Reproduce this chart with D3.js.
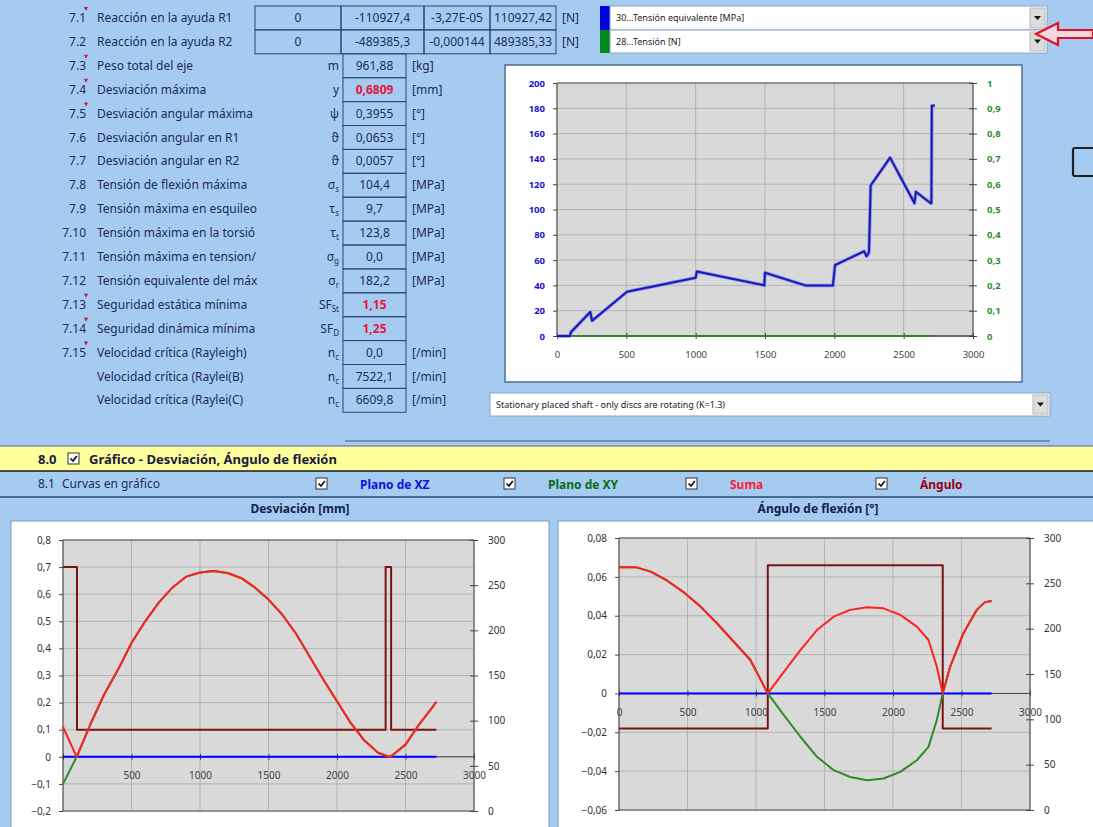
<!DOCTYPE html>
<html>
<head>
<meta charset="utf-8">
<script src="https://cdn.jsdelivr.net/npm/d3@7"></script>
<style>
  body { margin: 0; background: #a6cbf1; overflow: hidden; }
  text { font-family: "Noto Sans", sans-serif; }
</style>
</head>
<body>
<script>
// ---- table data (section 7) ----
var reacNums = ["7.1", "7.2"];
var reacLabels = ["Reacción en la ayuda R1", "Reacción en la ayuda R2"];
var reacCells = [
  ["0", "-110927,4", "-3,27E-05", "110927,42"],
  ["0", "-489385,3", "-0,000144", "489385,33"]
];
var resNums = ["7.3", "7.4", "7.5", "7.6", "7.7", "7.8", "7.9", "7.10", "7.11", "7.12", "7.13", "7.14", "7.15", "", ""];
var resLabels = ["Peso total del eje", "Desviación máxima", "Desviación angular máxima",
  "Desviación angular en R1", "Desviación angular en R2", "Tensión de flexión máxima",
  "Tensión máxima en esquileo", "Tensión máxima en la torsió", "Tensión máxima en tension/",
  "Tensión equivalente del máx", "Seguridad estática mínima", "Seguridad dinámica mínima",
  "Velocidad crítica (Rayleigh)", "Velocidad crítica (Raylei(B)", "Velocidad crítica (Raylei(C)"];
var resSym = [["m", ""], ["y", ""], ["ψ", ""], ["ϑ", ""], ["ϑ", ""], ["σ", "s"], ["τ", "s"], ["τ", "t"],
  ["σ", "g"], ["σ", "r"], ["SF", "St"], ["SF", "D"], ["n", "c"], ["n", "c"], ["n", "c"]];
var resValues = ["961,88", "0,6809", "0,3955", "0,0653", "0,0057", "104,4", "9,7", "123,8", "0,0",
  "182,2", "1,15", "1,25", "0,0", "7522,1", "6609,8"];
var resUnits = ["[kg]", "[mm]", "[°]", "[°]", "[°]", "[MPa]", "[MPa]", "[MPa]", "[MPa]", "[MPa]", "", "",
  "[/min]", "[/min]", "[/min]"];

// ---- top chart: stress along the shaft ----
var xTicks = [0, 500, 1000, 1500, 2000, 2500, 3000];
var stressX = [0, 95, 100, 240, 253, 505, 1000, 1008, 1495, 1500, 1790, 1990, 2005, 2215, 2232, 2250, 2262, 2402, 2578, 2588, 2695, 2700, 2703, 2725];
var stressY = [0, 0, 3, 19, 12, 35, 46, 51, 40, 50, 40, 40, 56, 67, 63, 66, 119, 141, 105, 114, 105, 105, 182, 182];
var tensionY = [0, 0, 0, 0, 0, 0, 0, 0, 0, 0, 0, 0, 0, 0, 0, 0, 0, 0, 0, 0, 0, 0, 0, 0];
var stressTicks = [0, 20, 40, 60, 80, 100, 120, 140, 160, 180, 200];
var tensionTicks = [0, 0.1, 0.2, 0.3, 0.4, 0.5, 0.6, 0.7, 0.8, 0.9, 1];

// ---- bottom left: deflection [mm] ----
var defX = [0, 100, 200, 300, 400, 500, 600, 700, 800, 900, 1000, 1100, 1200, 1300, 1400, 1500, 1600, 1700, 1800, 1900, 2000, 2100, 2200, 2300, 2380, 2400, 2500, 2600, 2700, 2725];
var defXZ = [0, 0, 0, 0, 0, 0, 0, 0, 0, 0, 0, 0, 0, 0, 0, 0, 0, 0, 0, 0, 0, 0, 0, 0, 0, 0, 0, 0, 0, 0];
var defXY = [-0.1, 0, 0.12, 0.23, 0.32, 0.42, 0.5, 0.57, 0.625, 0.665, 0.68, 0.686, 0.678, 0.66, 0.625, 0.58, 0.525, 0.455, 0.37, 0.285, 0.205, 0.125, 0.06, 0.015, 0, 0.004, 0.045, 0.12, 0.185, 0.203];
var defSum = [0.11, 0, 0.12, 0.23, 0.32, 0.42, 0.5, 0.57, 0.625, 0.665, 0.68, 0.686, 0.678, 0.66, 0.625, 0.58, 0.525, 0.455, 0.37, 0.285, 0.205, 0.125, 0.06, 0.015, 0, 0.004, 0.045, 0.12, 0.185, 0.203];
var defAngX = [0, 102, 102, 2355, 2355, 2395, 2395, 2725];
var defAngY = [270, 270, 90, 90, 270, 270, 90, 90];
var defTicks = [-0.2, -0.1, 0, 0.1, 0.2, 0.3, 0.4, 0.5, 0.6, 0.7, 0.8];
var degTicks = [0, 50, 100, 150, 200, 250, 300];

// ---- bottom right: bending angle [°] ----
var angX = [0, 121, 231, 352, 474, 595, 717, 838, 959, 1086, 1202, 1324, 1445, 1567, 1688, 1810, 1931, 2053, 2174, 2259, 2320, 2363, 2417, 2514, 2611, 2671, 2720];
var angXZ = [0, 0, 0, 0, 0, 0, 0, 0, 0, 0, 0, 0, 0, 0, 0, 0, 0, 0, 0, 0, 0, 0, 0, 0, 0, 0, 0];
var angXY = [0.065, 0.065, 0.0627, 0.058, 0.052, 0.0447, 0.036, 0.0266, 0.0172, 0, -0.011, -0.0223, -0.0326, -0.0395, -0.043, -0.0447, -0.0438, -0.0404, -0.0344, -0.0275, -0.0137, 0, 0.0137, 0.031, 0.043, 0.047, 0.0476];
var angSum = [0.065, 0.065, 0.0627, 0.058, 0.052, 0.0447, 0.036, 0.0266, 0.0172, 0, 0.011, 0.0223, 0.0326, 0.0395, 0.043, 0.0443, 0.0438, 0.0404, 0.0344, 0.0275, 0.0137, 0, 0.0137, 0.031, 0.043, 0.047, 0.0476];
var angStepX = [0, 1086, 1086, 2363, 2363, 2720];
var angStepY = [90, 90, 270, 270, 90, 90];
var angTicks = [-0.06, -0.04, -0.02, 0, 0.02, 0.04, 0.06, 0.08];

var curveNames = ["Plano de XZ", "Plano de XY", "Suma", "Ángulo"];

var ink = "#1b2c5a";
var loc = d3.formatLocale({decimal: ",", thousands: ".", grouping: [3], currency: ["", ""]});

var svg = d3.select("body").append("svg").attr("width", 1093).attr("height", 827);
svg.append("rect").attr("width", 1093).attr("height", 827).attr("fill", "#a6cbf1");

function rowY(i) { return 18 + i * 23.9; }

function checkbox(x, y) {
  svg.append("rect").attr("x", x).attr("y", y).attr("width", 11).attr("height", 11)
    .attr("fill", "#fff").attr("stroke", "#333");
  svg.append("path").attr("d", "M" + (x + 2.5) + "," + (y + 5.5) + "l2.5,2.5l3.8,-5")
    .attr("fill", "none").attr("stroke", "#111").attr("stroke-width", 1.7);
}

// ---- section 7 table ----
var allNums = reacNums.concat(resNums);
var allLabels = reacLabels.concat(resLabels);
svg.selectAll(".num").data(allNums).join("text")
  .attr("x", 86).attr("y", function(d, i) { return rowY(i) + 4; })
  .attr("text-anchor", "end").attr("font-size", 12).attr("fill", ink).text(function(d) { return d; });
svg.selectAll(".lab").data(allLabels).join("text")
  .attr("x", 97).attr("y", function(d, i) { return rowY(i) + 4; })
  .attr("font-size", 12).attr("fill", ink).text(function(d) { return d; });

// comment markers
[0, 2, 3, 4, 12, 13, 14].forEach(function(i) {
  var y = rowY(i) - 12;
  svg.append("path").attr("d", "M84," + (y + 1) + "l4,0l-2,4z").attr("fill", "#d0102a");
});

// reactions grid
var cellEdges = [255, 341, 424, 490, 556];
reacCells.forEach(function(row, r) {
  row.forEach(function(v, c) {
    svg.append("rect").attr("x", cellEdges[c]).attr("y", 6 + r * 23.9)
      .attr("width", cellEdges[c + 1] - cellEdges[c]).attr("height", 23.9)
      .attr("fill", "none").attr("stroke", "#2b4670");
    svg.append("text").attr("x", (cellEdges[c] + cellEdges[c + 1]) / 2).attr("y", rowY(r) + 4)
      .attr("text-anchor", "middle").attr("font-size", 12).attr("fill", ink).text(v);
  });
  svg.append("text").attr("x", 562).attr("y", rowY(r) + 4).attr("font-size", 12).attr("fill", ink).text("[N]");
});

// results column
var hot = {1: true, 10: true, 11: true};
resValues.forEach(function(v, k) {
  var i = k + 2;
  svg.append("rect").attr("x", 343).attr("y", 6 + i * 23.9).attr("width", 63).attr("height", 23.9)
    .attr("fill", "none").attr("stroke", "#2b4670");
  svg.append("text").attr("x", 374.5).attr("y", rowY(i) + 4).attr("text-anchor", "middle")
    .attr("font-size", 12).attr("font-weight", hot[k] ? "bold" : "normal")
    .attr("fill", hot[k] ? "#e8143c" : ink).text(v);
  var s = svg.append("text").attr("x", 339).attr("y", rowY(i) + 4).attr("text-anchor", "end")
    .attr("font-size", 12).attr("fill", ink);
  s.append("tspan").text(resSym[k][0]);
  if (resSym[k][1]) s.append("tspan").attr("font-size", 8).attr("dy", 3).text(resSym[k][1]);
  svg.append("text").attr("x", 412).attr("y", rowY(i) + 4).attr("font-size", 12).attr("fill", ink).text(resUnits[k]);
});

// ---- dropdowns ----
function dropdown(x0, x1, y0, h, label, swatch) {
  if (swatch) svg.append("rect").attr("x", x0 - 10).attr("y", y0).attr("width", 10).attr("height", h).attr("fill", swatch);
  svg.append("rect").attr("x", x0).attr("y", y0).attr("width", x1 - x0).attr("height", h)
    .attr("fill", "#fff").attr("stroke", "#8aa4c2");
  svg.append("rect").attr("x", x1 - 17).attr("y", y0 + 2).attr("width", 15).attr("height", h - 4)
    .attr("fill", "#dcdcdc").attr("stroke", "#b8b8b8");
  svg.append("path").attr("d", "M" + (x1 - 13) + "," + (y0 + h / 2 - 2) + "l7,0l-3.5,4z").attr("fill", "#111");
  svg.append("text").attr("x", x0 + 6).attr("y", y0 + h / 2 + 3).attr("font-size", 9).attr("fill", "#222").text(label);
}
dropdown(610, 1047, 6, 24, "30...Tensión equivalente  [MPa]", "#0000e0");
dropdown(610, 1047, 30, 23, "28...Tensión  [N]", "#008a1e");
dropdown(490, 1050, 393, 23, "Stationary placed shaft - only discs are rotating  (K=1.3)", null);

// red arrow pointing at the second dropdown
svg.append("path").attr("d", "M1036,34 L1058,23 L1058,30 L1093,30 L1093,38 L1058,38 L1058,45 Z")
  .attr("fill", "#f4d8dc").attr("stroke", "#e0102a").attr("stroke-width", 2.2);
svg.append("rect").attr("x", 1073).attr("y", 148).attr("width", 26).attr("height", 28).attr("rx", 2)
  .attr("fill", "none").attr("stroke", "#222").attr("stroke-width", 2.2);

svg.append("line").attr("x1", 345).attr("x2", 1050).attr("y1", 441).attr("y2", 441)
  .attr("stroke", "#3b5578").attr("stroke-width", 1.2);

// ---- section 8 header ----
svg.append("rect").attr("x", 0).attr("y", 446).attr("width", 1093).attr("height", 25).attr("fill", "#ffff9c");
svg.append("line").attr("x1", 0).attr("x2", 1093).attr("y1", 446).attr("y2", 446).attr("stroke", "#4a6282");
svg.append("line").attr("x1", 0).attr("x2", 1093).attr("y1", 471).attr("y2", 471).attr("stroke", "#1a1a1a").attr("stroke-width", 1.5);
svg.append("text").attr("x", 38).attr("y", 464).attr("font-size", 13).attr("font-weight", "bold").attr("fill", "#1a1a40").text("8.0");
checkbox(68, 453);
svg.append("text").attr("x", 89).attr("y", 464).attr("font-size", 13).attr("font-weight", "bold").attr("fill", "#1a1a40")
  .text("Gráfico - Desviación, Ángulo de flexión");

svg.append("text").attr("x", 38).attr("y", 488).attr("font-size", 12).attr("fill", ink).text("8.1");
svg.append("text").attr("x", 62).attr("y", 488).attr("font-size", 12).attr("fill", ink).text("Curvas en gráfico");
var curveColors = ["#1010e0", "#0a6a1a", "#ff1a3c", "#9c0010"];
var boxX = [316, 504, 686, 876];
curveNames.forEach(function(n, i) {
  checkbox(boxX[i], 478);
  svg.append("text").attr("x", boxX[i] + 44).attr("y", 489).attr("font-size", 12).attr("font-weight", "bold")
    .attr("fill", curveColors[i]).text(n);
});
svg.append("line").attr("x1", 0).attr("x2", 1093).attr("y1", 497).attr("y2", 497).attr("stroke", "#2b4670").attr("stroke-width", 1.3);

svg.append("text").attr("x", 300).attr("y", 513).attr("text-anchor", "middle").attr("font-size", 12)
  .attr("font-weight", "bold").attr("fill", "#12224a").text("Desviación [mm]");
svg.append("text").attr("x", 818).attr("y", 513).attr("text-anchor", "middle").attr("font-size", 12)
  .attr("font-weight", "bold").attr("fill", "#12224a").text("Ángulo de flexión [°]");

// ---- chart panels ----
svg.append("rect").attr("x", 505).attr("y", 65).attr("width", 517).attr("height", 317)
  .attr("fill", "#fff").attr("stroke", "#4d6d94").attr("stroke-width", 1.5);
svg.append("rect").attr("x", 11).attr("y", 521).attr("width", 538).attr("height", 310)
  .attr("fill", "#fff").attr("stroke", "#7d99bb");
svg.append("rect").attr("x", 558).attr("y", 521).attr("width", 540).attr("height", 310)
  .attr("fill", "#fff").attr("stroke", "#7d99bb");

function styleAxis(sel, color, weight, size) {
  sel.select(".domain").remove();
  sel.selectAll("line").attr("stroke", "#444");
  sel.selectAll("text").attr("font-size", size).attr("fill", color).attr("font-weight", weight || "normal")
    .style("font-family", "'Noto Sans', sans-serif");
}

function plot(p) {
  var x = d3.scaleLinear().domain([0, 3000]).range([p.x0, p.x1]);
  var y = d3.scaleLinear().domain(p.yDom).range([p.y1, p.y0]);
  var y2 = d3.scaleLinear().domain(p.y2Dom).range([p.y1, p.y0]);
  var g = svg.append("g");
  g.append("rect").attr("x", p.x0).attr("y", p.y0).attr("width", p.x1 - p.x0).attr("height", p.y1 - p.y0)
    .attr("fill", "#d9d9d9");
  g.selectAll(".hg").data(p.yTicks).join("line")
    .attr("x1", p.x0).attr("x2", p.x1).attr("y1", function(d) { return y(d); }).attr("y2", function(d) { return y(d); })
    .attr("stroke", "#b4b4b4");
  g.selectAll(".vg").data(xTicks).join("line")
    .attr("y1", p.y0).attr("y2", p.y1).attr("x1", function(d) { return x(d); }).attr("x2", function(d) { return x(d); })
    .attr("stroke", "#b4b4b4");
  // frame lines
  g.append("line").attr("x1", p.x0).attr("x2", p.x1).attr("y1", p.y0).attr("y2", p.y0).attr("stroke", "#555");
  g.append("line").attr("x1", p.x0).attr("x2", p.x1).attr("y1", p.y1).attr("y2", p.y1).attr("stroke", "#555");
  g.append("line").attr("x1", p.x0).attr("x2", p.x0).attr("y1", p.y0).attr("y2", p.y1).attr("stroke", "#444");
  g.append("line").attr("x1", p.x1).attr("x2", p.x1).attr("y1", p.y0).attr("y2", p.y1).attr("stroke", "#444");

  var la = g.append("g").attr("transform", "translate(" + p.x0 + ",0)")
    .call(d3.axisLeft(y).tickValues(p.yTicks).tickSize(4).tickPadding(8).tickFormat(p.yFmt));
  styleAxis(la, p.yColor, p.yWeight, p.fs);
  var ra = g.append("g").attr("transform", "translate(" + p.x1 + ",0)")
    .call(d3.axisRight(y2).tickValues(p.y2Ticks).tickSize(4).tickPadding(10).tickFormat(p.y2Fmt));
  styleAxis(ra, p.y2Color, p.y2Weight, p.fs);
  ra.selectAll(".tick line").attr("x1", -4);

  var axY = y(p.xAt);
  g.append("line").attr("x1", p.x0).attr("x2", p.x1).attr("y1", axY).attr("y2", axY).attr("stroke", "#444");
  var xa = g.append("g").attr("transform", "translate(0," + axY + ")")
    .call(d3.axisBottom(x).tickValues(xTicks).tickSize(3).tickPadding(12).tickFormat(p.xFmt));
  styleAxis(xa, "#444", "normal", p.fs);
  xa.selectAll(".tick line").attr("y1", -3);
  return {x: x, y: y, y2: y2, g: g};
}

function drawLine(c, X, Y, scaleY, color, w) {
  var line = d3.line().x(function(d) { return c.x(d[0]); }).y(function(d) { return scaleY(d[1]); });
  c.g.append("path").datum(d3.zip(X, Y)).attr("d", line)
    .attr("fill", "none").attr("stroke", color).attr("stroke-width", w).attr("stroke-linejoin", "round");
}

// top chart
var stressChart = plot({x0: 557, x1: 973, y0: 83, y1: 336, yDom: [0, 200], y2Dom: [0, 1],
  yTicks: stressTicks, y2Ticks: tensionTicks, yFmt: loc.format("d"), y2Fmt: loc.format("~g"), fs: 9.5,
  yColor: "#1414d0", yWeight: "bold", y2Color: "#2e8b2e", y2Weight: "bold", xAt: 0, xFmt: loc.format("d")});
drawLine(stressChart, stressX, tensionY, stressChart.y2, "#228b22", 1.5);
drawLine(stressChart, stressX, stressY, stressChart.y, "#8c8cf0", 3.5);
drawLine(stressChart, stressX, stressY, stressChart.y, "#1a1ab4", 2);

// deflection chart
var dc = plot({x0: 63, x1: 474, y0: 540, y1: 811, yDom: [-0.2, 0.8], y2Dom: [0, 300],
  yTicks: defTicks, y2Ticks: degTicks, yFmt: loc.format("~g"), y2Fmt: loc.format("d"), fs: 10,
  yColor: "#333", y2Color: "#333", xAt: 0,
  xFmt: function(d) { return d === 0 ? "" : loc.format("d")(d); }});
drawLine(dc, defAngX, defAngY, dc.y2, "#7a1414", 2);
drawLine(dc, defX, defXZ, dc.y, "#0000ff", 2);
drawLine(dc, defX, defXY, dc.y, "#2e8b2e", 2);
drawLine(dc, defX, defSum, dc.y, "#ff2020", 2);

// angle chart
var ac = plot({x0: 619, x1: 1030, y0: 538, y1: 810, yDom: [-0.06, 0.08], y2Dom: [0, 300],
  yTicks: angTicks, y2Ticks: degTicks, yFmt: loc.format("~g"), y2Fmt: loc.format("d"), fs: 10,
  yColor: "#333", y2Color: "#333", xAt: 0, xFmt: loc.format("d")});
drawLine(ac, angStepX, angStepY, ac.y2, "#7a1414", 2);
drawLine(ac, angX, angXZ, ac.y, "#0000ff", 2);
drawLine(ac, angX, angXY, ac.y, "#2e8b2e", 2);
drawLine(ac, angX, angSum, ac.y, "#ff2020", 2);
</script>
</body>
</html>
